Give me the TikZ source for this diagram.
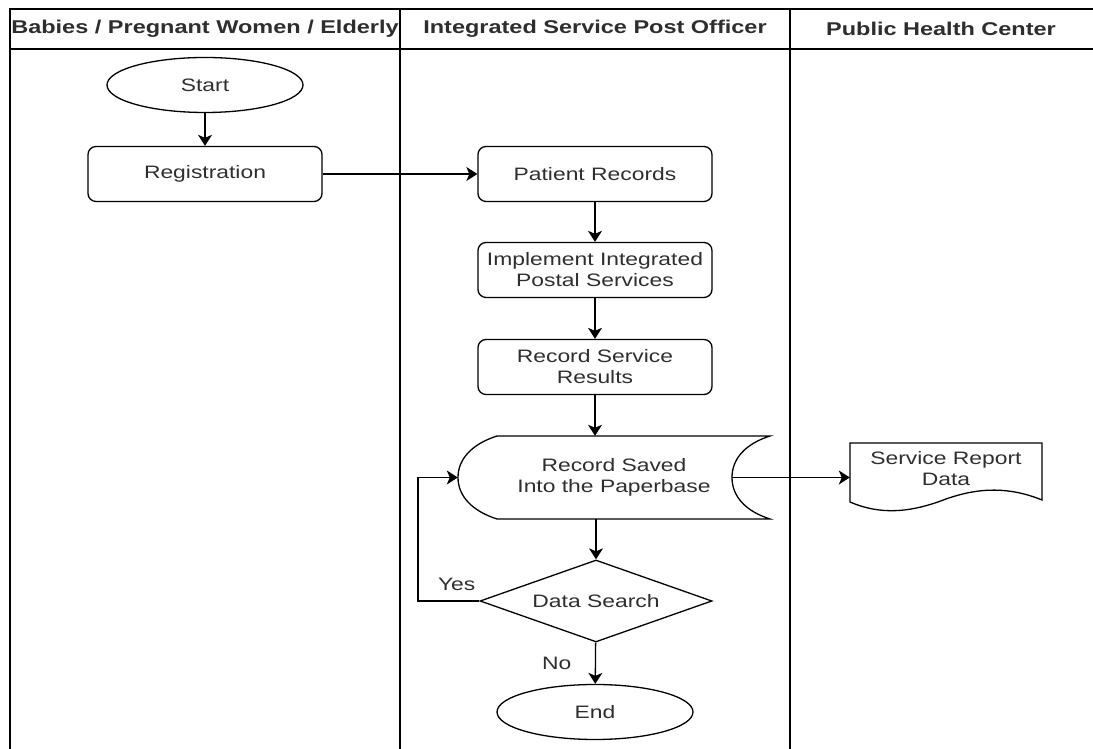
\documentclass[tikz,border=0pt]{standalone}
\usepackage{fontspec}
\setmainfont{Liberation Sans}[FakeStretch=1.27]
\usetikzlibrary{shapes.geometric,arrows.meta}
\definecolor{txtgray}{HTML}{2E2E2E}
\begin{document}
\begin{tikzpicture}[x=1pt,y=1pt,
    every node/.style={font=\fontsize{18}{21}\selectfont, text=txtgray, align=center},
    lane/.style={line width=1.6pt},
    hdr/.style={font=\fontsize{18.5}{22}\selectfont\bfseries},
    proc/.style={draw, rounded corners=8pt, minimum width=234, minimum height=55, line width=1.3pt},
    term/.style={draw, ellipse, minimum width=196, minimum height=55, line width=1.3pt},
    decide/.style={draw, diamond, shape aspect=2.83, minimum width=232, minimum height=82, inner sep=0pt, line width=1.3pt},
    flow/.style={-{Stealth[length=11pt,width=14pt,inset=3pt]}, line width=1.3pt}]
    \useasboundingbox (0,0) rectangle (1093,749);
    % swimlanes
    \draw[lane] (10,0) -- (10,740) -- (1093,740);
    \draw[lane] (10,700) -- (1093,700);
    \foreach \x in {400,790}
        \draw[lane] (\x,0) -- (\x,740);
    \node[hdr] (hdA) at (205,720) {Babies / Pregnant Women / Elderly};
    \node[hdr] (hdB) at (595,720) {Integrated Service Post Officer};
    \node[hdr] (hdC) at (941,720) {Public Health Center};

    % steps
    \node[term] (start) at (205,664) {Start};
    \node[proc] (reg) at (205,575) {Registration};
    \node[proc] (rec) at (595,575) {Patient Records};
    \node[proc] (impl) at (595,479) {Implement Integrated\\Postal Services};
    \node[proc] (res) at (595,382) {Record Service\\Results};
    \node[minimum width=312, minimum height=83] (saved) at (614,271.5) {Record Saved\\Into the Paperbase};
    \node[minimum width=192, minimum height=59] (report) at (946,280) {Service Report\\Data};
    \node[decide] (search) at (596,148) {Data Search};
    \node[term] (stop) at (595,37) {End};
    \coordinate (savedout) at (732,271.5);
    \coordinate (loop) at (418,148);

    % stored data and document outlines
    \draw[line width=1.3pt] (497,313) -- (770,313) .. controls (745,305) and (732,290) .. (732,271.5)
        .. controls (732,253) and (745,238) .. (770,230) -- (497,230)
        .. controls (472,238) and (458,253) .. (458,271.5) .. controls (458,290) and (472,305) .. cycle;
    \draw[line width=1.3pt] (850,247) -- (850,306) -- (1042,306) -- (1042,249)
        .. controls (1010,262) and (980,262) .. (946,250) .. controls (910,236) and (880,234) .. (850,247) -- cycle;

    % connectors
    \draw[flow] (start) -- (reg);
    \draw[flow] (reg) -- (rec);
    \draw[flow] (rec) -- (impl);
    \draw[flow] (impl) -- (res);
    \draw[flow] (res.south) -- (res.south |- saved.north);
    \draw[flow] (search.north |- saved.south) -- (search.north);
    \draw[flow] (savedout) -- (savedout -| report.west);
    \draw[flow] (search.west) -- node[pos=0.37, above=6pt] (yes) {Yes} (loop) |- (saved.west);
    \draw[flow] (search) -- node[left=20pt] (no) {No} (stop);
\end{tikzpicture}
\end{document}
